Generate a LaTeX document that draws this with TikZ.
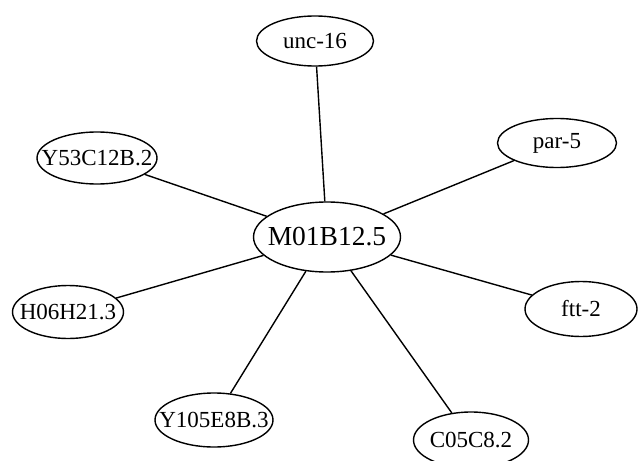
\documentclass[tikz,border=0pt]{standalone}
\usepackage{fontspec}
\setmainfont{Liberation Serif}
\usetikzlibrary{shapes.geometric}
\tikzset{
  gene/.style={ellipse, draw=black, line width=1.4pt, inner sep=0pt, fill=white,
    font=\fontsize{23}{25}\selectfont},
  hubgene/.style={gene, font=\fontsize{27.5}{30}\selectfont},
  link/.style={draw=black, line width=1.4pt}
}
\newcommand{\lbl}[1]{\makebox[0pt][c]{#1}}
\begin{document}
\begin{tikzpicture}[x=1pt,y=-1pt]
\useasboundingbox (0,0) rectangle (639,460);
\clip (0,0) rectangle (639,460);
\fill[white] (0,0) rectangle (639,460);
\node[hubgene, minimum width=147pt, minimum height=70pt] (hub) at (327,237) {\lbl{M01B12.5}};
\node[gene, minimum width=117pt, minimum height=50pt] (unc) at (315,41) {\lbl{unc-16}};
\node[gene, minimum width=119pt, minimum height=49pt] (par) at (557,143) {\lbl{par-5}};
\node[gene, minimum width=120pt, minimum height=52pt] (y53) at (97,158) {\lbl{Y53C12B.2}};
\node[gene, minimum width=111pt, minimum height=53pt] (h06) at (68,312) {\lbl{H06H21.3}};
\node[gene, minimum width=112pt, minimum height=55pt] (ftt) at (581,309) {\lbl{ftt-2}};
\node[gene, minimum width=118pt, minimum height=54pt] (y105) at (214,420) {\lbl{Y105E8B.3}};
\node[gene, minimum width=115pt, minimum height=56pt] (c05) at (471,440) {\lbl{C05C8.2}};
\draw[link] (hub) -- (unc);
\draw[link] (hub) -- (par);
\draw[link] (hub) -- (y53);
\draw[link] (hub) -- (h06);
\draw[link] (hub) -- (ftt);
\draw[link] (hub) -- (y105);
\draw[link] (hub) -- (c05);
\end{tikzpicture}
\end{document}
